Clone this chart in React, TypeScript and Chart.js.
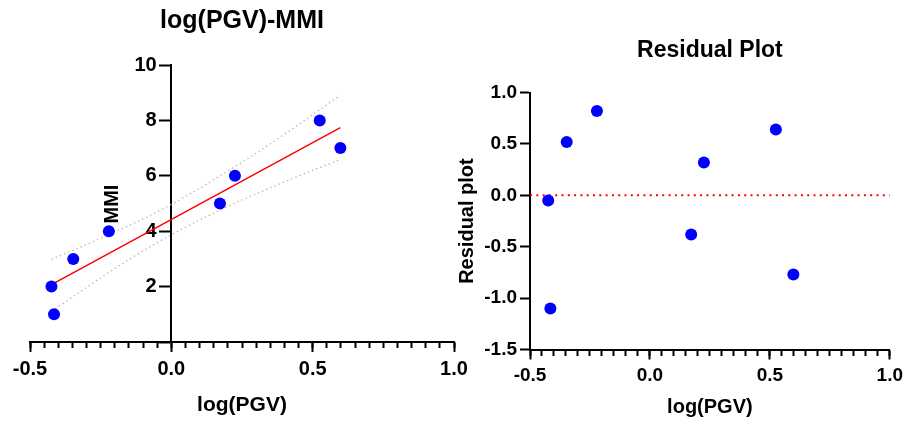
import React, { useEffect, useRef } from 'react';
import { Chart, registerables } from 'chart.js';

Chart.register(...registerables);

// ---- data ----
const logPGV = [-0.424, -0.415, -0.347, -0.221, 0.172, 0.225, 0.525, 0.598];
const mmi = [2, 1, 3, 4, 5, 6, 8, 7];
const residuals = [-0.05, -1.1, 0.52, 0.82, -0.38, 0.32, 0.64, -0.77];

const fitX = [-0.424, 0.598];
const fitY = [2.07, 7.74];

const bandX = [-0.424, -0.2, 0, 0.2, 0.4, 0.598];
const bandUpper = [2.98, 3.97, 4.97, 6.17, 7.5, 8.91];
const bandLower = [1.1, 2.65, 3.87, 4.89, 5.78, 6.59];

const zeroLineX = [-0.5, 1.0];
const zeroLineY = [0, 0];

const xTickValues = [-0.5, 0.0, 0.5, 1.0];
const mmiTicks = [2, 4, 6, 8, 10];
const residualTicks = [-1.5, -1.0, -0.5, 0.0, 0.5, 1.0];

// ---- styling ----
const FONT = "'Liberation Sans', Arial, Helvetica, sans-serif";
const BLUE = '#0000ff';
const RED = '#ff0000';
const GRAY = '#b5b5b5';
const BLACK = '#000000';

const pts = (xs: number[], ys: number[]) => xs.map((x, i) => ({ x, y: ys[i] }));

const mmiTitlePlugin = {
  id: 'mmiTitle',
  afterDraw(chart: any) {
    const { ctx } = chart;
    const xs = chart.scales.x;
    const ys = chart.scales.y;
    ctx.save();
    ctx.translate(xs.getPixelForValue(0) - 59, ys.getPixelForValue(4.98));
    ctx.rotate(-Math.PI / 2);
    ctx.font = `bold 20px ${FONT}`;
    ctx.fillStyle = BLACK;
    ctx.textAlign = 'center';
    ctx.textBaseline = 'middle';
    ctx.fillText('MMI', 0, 0);
    ctx.restore();
  },
};

function LeftChart() {
  const ref = useRef<HTMLCanvasElement>(null);
  useEffect(() => {
    if (!ref.current) return;
    const chart = new Chart(ref.current, {
      type: 'scatter',
      data: {
        datasets: [
          {
            label: 'MMI',
            data: pts(logPGV, mmi),
            backgroundColor: BLUE,
            borderColor: BLUE,
            pointRadius: 6,
            pointHoverRadius: 6,
            pointBorderWidth: 0,
          },
          {
            label: 'Fit',
            data: pts(fitX, fitY),
            showLine: true,
            borderColor: RED,
            borderWidth: 1.5,
            pointRadius: 0,
          },
          {
            label: 'Upper',
            data: pts(bandX, bandUpper),
            showLine: true,
            borderColor: GRAY,
            borderWidth: 1.2,
            borderDash: [1.5, 3],
            pointRadius: 0,
            tension: 0.4,
          },
          {
            label: 'Lower',
            data: pts(bandX, bandLower),
            showLine: true,
            borderColor: GRAY,
            borderWidth: 1.2,
            borderDash: [1.5, 3],
            pointRadius: 0,
            tension: 0.4,
          },
        ],
      },
      options: {
        responsive: false,
        animation: false,
        layout: { padding: { left: 30, right: 26, top: 0, bottom: 0 } },
        plugins: {
          legend: { display: false },
          tooltip: { enabled: false },
          title: {
            display: true,
            fullSize: false,
            text: 'log(PGV)-MMI',
            color: BLACK,
            font: { family: FONT, size: 25, weight: 'bold' },
            padding: { top: 6, bottom: 29 },
          },
        },
        scales: {
          x: {
            type: 'linear',
            position: 'bottom',
            min: -0.5,
            max: 1.0,
            afterFit: (s: any) => { s.height = 79; },
            afterBuildTicks: (s: any) => { s.ticks = xTickValues.map((v) => ({ value: v })); },
            ticks: {
              stepSize: 0.5,
              autoSkip: false,
              maxRotation: 0,
              padding: 5,
              color: BLACK,
              font: { family: FONT, size: 20, weight: 'bold' },
              callback: (v: any) => Number(v).toFixed(1),
            },
            grid: { drawOnChartArea: false, tickLength: 10, tickWidth: 2, tickColor: BLACK },
            border: { color: BLACK, width: 2 },
            title: {
              display: true,
              text: 'log(PGV)',
              color: BLACK,
              font: { family: FONT, size: 21, weight: 'bold' },
              padding: { top: 0, bottom: 3 },
            },
          },
          xMinor: {
            type: 'linear',
            position: { y: 0 },
            min: -0.5,
            max: 1.0,
            ticks: { display: false, stepSize: 0.05, autoSkip: false },
            grid: { drawOnChartArea: false, tickLength: 6, tickWidth: 2, tickColor: BLACK },
            border: { display: false },
          },
          y: {
            type: 'linear',
            position: { x: 0 },
            min: 0,
            max: 10,
            afterBuildTicks: (s: any) => { s.ticks = [0, ...mmiTicks].map((v) => ({ value: v })); },
            ticks: { display: false, stepSize: 2 },
            grid: { drawOnChartArea: false, tickLength: 11, tickWidth: 2, tickColor: BLACK },
            border: { color: BLACK, width: 2 },
          },
          yLabels: {
            type: 'linear',
            position: { x: -0.052 },
            min: 0,
            max: 10,
            afterBuildTicks: (s: any) => { s.ticks = mmiTicks.map((v) => ({ value: v })); },
            ticks: {
              stepSize: 2,
              color: BLACK,
              font: { family: FONT, size: 20, weight: 'bold' },
              callback: (v: any) => String(v),
            },
            grid: { display: false, drawOnChartArea: false, drawTicks: false },
            border: { display: false },
          },
        },
      } as any,
      plugins: [mmiTitlePlugin],
    });
    return () => chart.destroy();
  }, []);
  return (
    <canvas
      ref={ref}
      width={480}
      height={421}
      style={{ position: 'absolute', left: 0, top: 0 }}
    />
  );
}

function RightChart() {
  const ref = useRef<HTMLCanvasElement>(null);
  useEffect(() => {
    if (!ref.current) return;
    const chart = new Chart(ref.current, {
      type: 'scatter',
      data: {
        datasets: [
          {
            label: 'Residual',
            data: pts(logPGV, residuals),
            backgroundColor: BLUE,
            borderColor: BLUE,
            pointRadius: 6,
            pointHoverRadius: 6,
            pointBorderWidth: 0,
          },
          {
            label: 'Zero',
            data: pts(zeroLineX, zeroLineY),
            showLine: true,
            borderColor: RED,
            borderWidth: 2,
            borderDash: [2, 4.3],
            pointRadius: 0,
          },
        ],
      },
      options: {
        responsive: false,
        animation: false,
        layout: { padding: { left: 0, right: 14, top: 0, bottom: 0 } },
        plugins: {
          legend: { display: false },
          tooltip: { enabled: false },
          title: {
            display: true,
            fullSize: false,
            text: 'Residual Plot',
            color: BLACK,
            font: { family: FONT, size: 23, weight: 'bold' },
            padding: { top: 37, bottom: 28 },
          },
        },
        scales: {
          x: {
            type: 'linear',
            position: 'bottom',
            min: -0.5,
            max: 1.0,
            afterFit: (s: any) => { s.height = 71.5; },
            afterBuildTicks: (s: any) => { s.ticks = xTickValues.map((v) => ({ value: v })); },
            ticks: {
              stepSize: 0.5,
              autoSkip: false,
              maxRotation: 0,
              padding: 5,
              color: BLACK,
              font: { family: FONT, size: 19, weight: 'bold' },
              callback: (v: any) => Number(v).toFixed(1),
            },
            grid: { drawOnChartArea: false, tickLength: 10, tickWidth: 2, tickColor: BLACK },
            border: { color: BLACK, width: 2 },
            title: {
              display: true,
              text: 'log(PGV)',
              color: BLACK,
              font: { family: FONT, size: 20, weight: 'bold' },
              padding: { top: 0, bottom: 2 },
            },
          },
          xMinor: {
            type: 'linear',
            position: { y: -1.5 },
            min: -0.5,
            max: 1.0,
            ticks: { display: false, stepSize: 0.05, autoSkip: false },
            grid: { drawOnChartArea: false, tickLength: 6, tickWidth: 2, tickColor: BLACK },
            border: { display: false },
          },
          y: {
            type: 'linear',
            position: 'left',
            min: -1.5,
            max: 1.0,
            afterFit: (s: any) => { s.width = 76; },
            afterBuildTicks: (s: any) => { s.ticks = residualTicks.map((v) => ({ value: v })); },
            ticks: {
              stepSize: 0.5,
              padding: 3,
              color: BLACK,
              font: { family: FONT, size: 19, weight: 'bold' },
              callback: (v: any) => Number(v).toFixed(1),
            },
            grid: { drawOnChartArea: false, tickLength: 10, tickWidth: 2, tickColor: BLACK },
            border: { color: BLACK, width: 2 },
            title: {
              display: true,
              text: 'Residual plot',
              color: BLACK,
              font: { family: FONT, size: 20, weight: 'bold' },
              padding: { top: 1.5, bottom: 0 },
            },
          },
        },
      } as any,
    });
    return () => chart.destroy();
  }, []);
  return (
    <canvas
      ref={ref}
      width={454}
      height={421}
      style={{ position: 'absolute', left: 454, top: 0 }}
    />
  );
}

export default function App() {
  return (
    <div
      style={{
        position: 'absolute',
        left: 0,
        top: 0,
        width: 908,
        height: 421,
        background: '#ffffff',
        overflow: 'hidden',
      }}
    >
      <LeftChart />
      <RightChart />
    </div>
  );
}
